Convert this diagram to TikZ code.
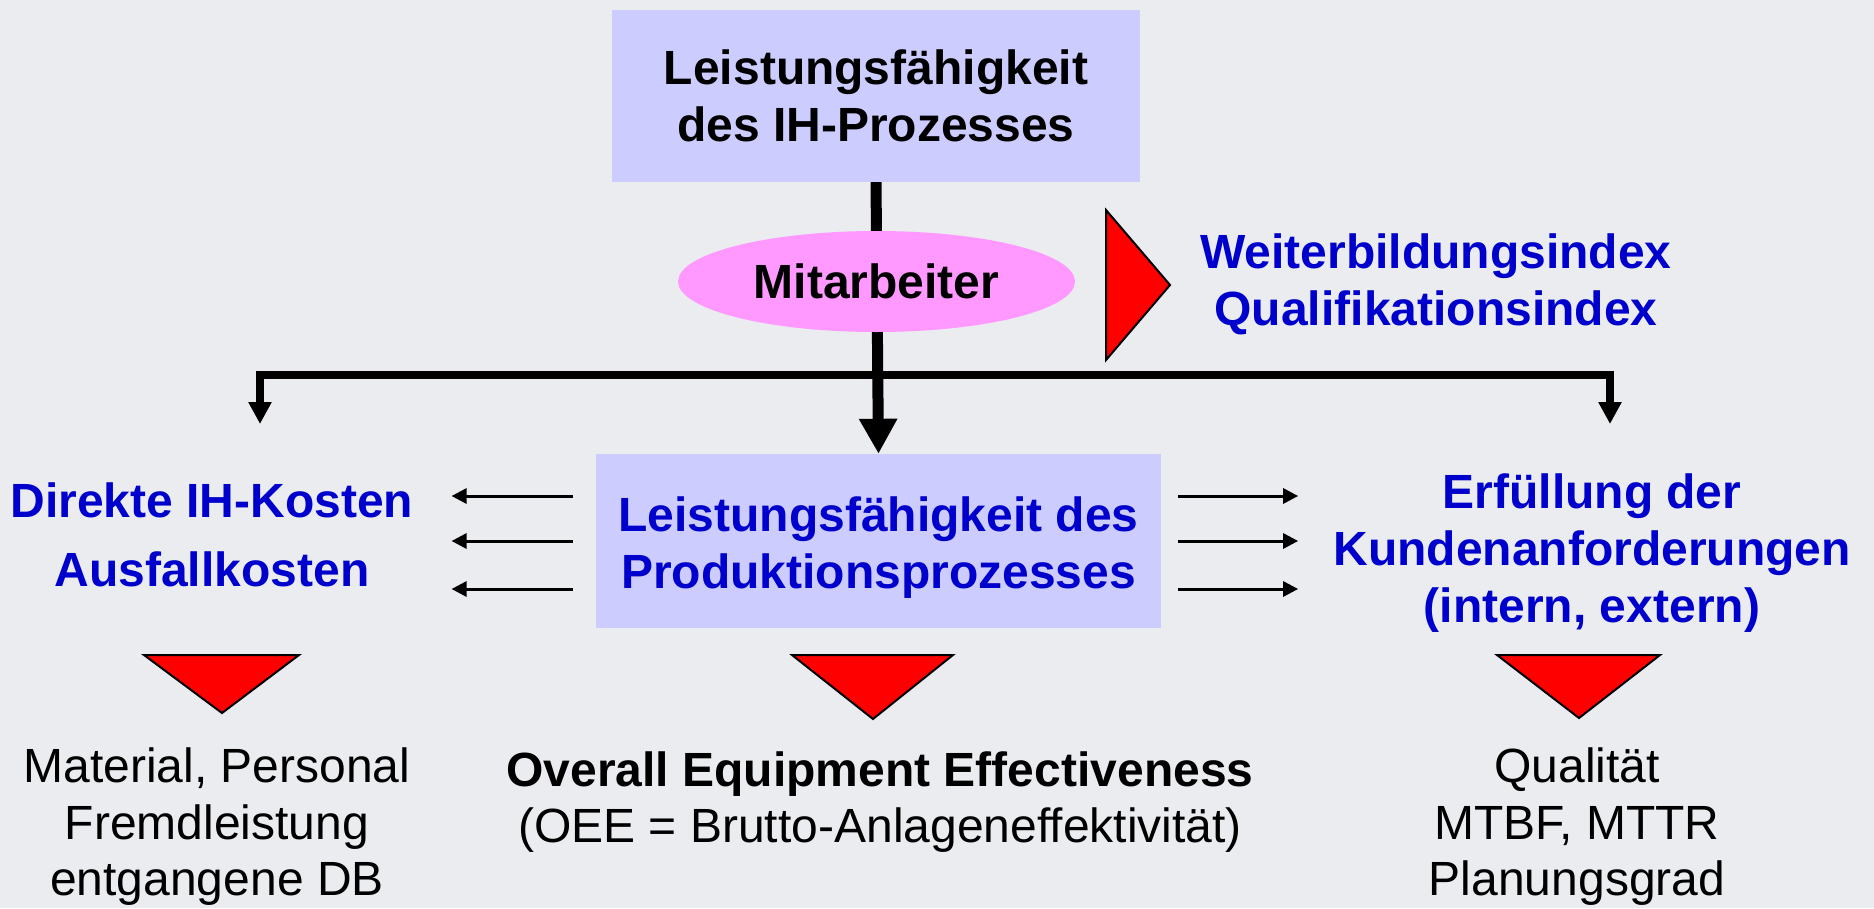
\documentclass[tikz,border=0pt]{standalone}
\usepackage{fontspec}
\setmainfont{Liberation Sans}
\usetikzlibrary{arrows.meta,shapes.geometric}

\begin{document}
\begin{tikzpicture}[x=1pt,y=-1pt,line join=miter,
	boxnode/.style={fill=custcol_cc_cc_ff, inner sep=0, align=center, font=\fontsize{48}{57}\selectfont\bfseries},
	textnode/.style={inner sep=0, align=center, font=\fontsize{48}{56.5}\selectfont},
	headnode/.style={textnode, font=\fontsize{48}{57}\selectfont\bfseries, text=custcol_0_0_cc},
	redtri/.style={fill=custcol_ff_0_0, draw=custcol_0_0_0, line width=2.0pt},
	smallarrow/.style={line width=3.0pt, -{Triangle[length=15pt,width=15pt]}},
	bararrow/.style={line width=8.0pt, {Triangle[length=22pt,width=22pt]}-{Triangle[length=22pt,width=22pt]}}]
					\definecolor{custcol_eb_ec_f0}{RGB}{235, 236, 240}
					\definecolor{custcol_cc_cc_ff}{RGB}{204, 204, 255}
					\definecolor{custcol_ff_99_ff}{RGB}{255, 153, 255}
					\definecolor{custcol_0_0_cc}{RGB}{0, 0, 204}
					\definecolor{custcol_ff_0_0}{RGB}{255, 0, 0}
					\definecolor{custcol_0_0_0}{RGB}{0, 0, 0}
					\fill [custcol_eb_ec_f0]  (0,0) rectangle (1874,908);
					\useasboundingbox (0,0) rectangle (1874,908);
					% boxes
					\node[boxnode, minimum width=528, minimum height=172] (ihproc) at (876,96) {Leistungsfähigkeit\\des IH-Prozesses};
					\node[boxnode, minimum width=565, minimum height=174] (prodproc) at (878.5,541) {};
					\node[headnode] (prodtext) at ([yshift=-7pt]prodproc.center) {Leistungsfähigkeit des\\Produktionsprozesses};
					\draw [line width=11.0pt, -{Triangle[length=35pt,width=36pt]}]  (ihproc.south) -- (prodproc.north);
					\node[ellipse, fill=custcol_ff_99_ff, minimum width=397, minimum height=101, inner sep=0, font=\fontsize{48}{57}\selectfont\bfseries] (mitarb) at (876.5,281.5) {Mitarbeiter};
					% bar with side arrows
					\coordinate (kostentip) at (260,424);
					\coordinate (kundentip) at (1610,424);
					\draw [bararrow]  (kostentip) |- (prodproc.north |- 0,375) -| (kundentip);
					\node[headnode, font=\fontsize{48}{69}\selectfont\bfseries] (kosten) at (212,535) {Direkte IH-Kosten\\Ausfallkosten};
					\node[headnode] (kunden) at (1592,553) {Erfüllung der\\Kundenanforderungen\\(intern, extern)};
					\node[headnode] (weiter) at (1436,284.5) {Weiterbildungsindex\\Qualifikationsindex};
					\foreach \y in {496,541,589} {
						\draw [smallarrow]  ([xshift=-23pt]prodproc.west |- 0,\y) -- ([xshift=38pt]kosten.east |- 0,\y);
						\draw [smallarrow]  ([xshift=17pt]prodproc.east |- 0,\y) -- ([xshift=-35pt]kunden.west |- 0,\y);
					}
					% red triangles
					\draw [redtri]  (1106,210) -- (1170,285) -- (1106,360) -- cycle;
					\draw [redtri]  (144,655) -- (299,655) -- (222,713) -- cycle;
					\draw [redtri]  (792,655) -- (953,655) -- (873,719) -- cycle;
					\draw [redtri]  (1497,655) -- (1660,655) -- (1579,718) -- cycle;
					% key figures
					\node[textnode] (kostenkz) at (217,827) {Material, Personal\\Fremdleistung\\entgangene DB};
					\node[textnode, font=\fontsize{48}{56}\selectfont] (oee) at (880,802.5) {\textbf{Overall Equipment Effectiveness}\\(OEE = Brutto-Anlageneffektivität)};
					\node[textnode] (kundenkz) at (1577,827) {Qualität\\MTBF, MTTR\\Planungsgrad};
				\end{tikzpicture}
\end{document}
